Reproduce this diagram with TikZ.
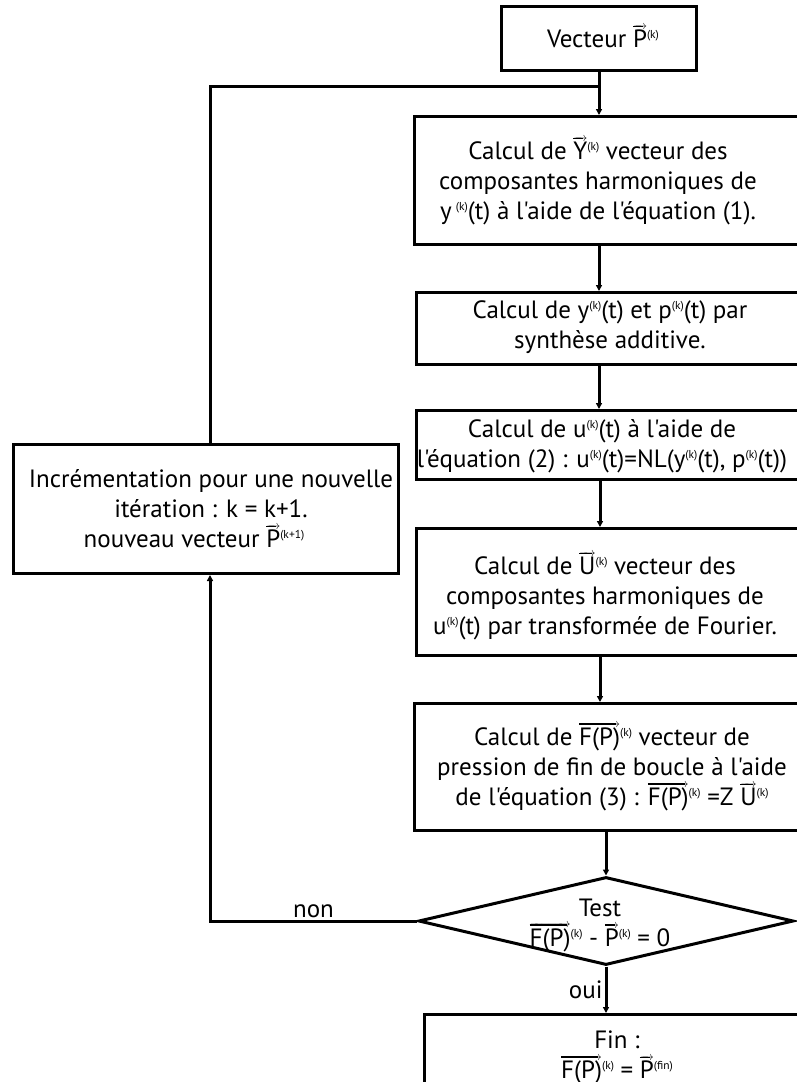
\documentclass[tikz,border=0pt]{standalone}
\usepackage{fontspec}
\setmainfont{PT Sans}[Ligatures=TeXOff]
\usetikzlibrary{arrows.meta,shapes.geometric}
\newsavebox{\vbx}
\newcommand{\vect}[1]{\sbox{\vbx}{#1}%
  \smash{\rlap{\raisebox{\dimexpr\ht\vbx+0.3pt\relax}{\hbox to\wd\vbx{\fontsize{12}{12}\selectfont\rightarrowfill}}}}%
  \smash{\rlap{\raisebox{\dimexpr\ht\vbx+0.3pt+2.4pt\relax}{\rule{\dimexpr\wd\vbx-4pt\relax}{1.2pt}}}}%
  \usebox{\vbx}}
\newcommand{\ex}[1]{\raisebox{9pt}{\fontsize{11.5}{11.5}\selectfont #1}}
\begin{document}
\begin{tikzpicture}[x=1pt,y=-1pt,line width=3pt,
  box/.style={draw, rectangle, inner sep=0pt, anchor=north west},
  txt/.style={align=center, inner sep=0pt, font=\fontsize{25}{30}\selectfont},
  lbl/.style={inner sep=2pt, font=\fontsize{25}{30}\selectfont},
  arr/.style={-{Triangle[length=6pt,width=6pt]}}]
\useasboundingbox (0,0) rectangle (797,1082);
\clip (0,0) rectangle (797,1082);
% boxes
\node[box, minimum width=195, minimum height=64] (top) at (500,5) {};
\node[box, minimum width=392, minimum height=128] (ybox) at (413,115) {};
\node[box, minimum width=390, minimum height=72] (b2) at (415,291) {};
\node[box, minimum width=390, minimum height=69] (b3) at (415,409) {};
\node[box, minimum width=390, minimum height=127] (b4) at (415,527) {};
\node[box, minimum width=392, minimum height=127] (b5) at (413,702) {};
\node[box, minimum width=385, minimum height=129] (lbox) at (12,443) {};
\node[box, minimum width=382, minimum height=100] (fin) at (423,1013) {};
\node[draw, diamond, minimum width=375, minimum height=88, inner sep=0pt] (test) at (606,921) {};
% texts
\node[txt] (ttop) at (603,39) {Vecteur \vect{P}\ex{(k)}};
\node[txt] (tybox) at (598,183) {Calcul de \vect{Y}\ex{(k)} vecteur des\\composantes harmoniques de\\y\,\ex{(k)}(t) à l'aide de l'équation (1).};
\node[txt] (tb2) at (610,327) {Calcul de y\ex{(k)}(t) et p\ex{(k)}(t) par\\synthèse additive.};
\node[txt] (tb3) at (602,446) {Calcul de u\ex{(k)}(t) à l'aide de\\l'équation (2) : u\ex{(k)}(t)=NL(y\ex{(k)}(t), p\ex{(k)}(t))};
\node[txt] (tb4) at (605,598) {Calcul de \vect{U}\ex{(k)} vecteur des\\composantes harmoniques de\\u\ex{(k)}(t) par transformée de Fourier.};
\node[txt] (tb5) at (612,769) {Calcul de \vect{F(P)}\ex{(k)} vecteur de\\pression de fin de boucle à l'aide\\de l'équation (3) : \vect{F(P)}\ex{(k)} =Z \vect{U}\ex{(k)}};
\node[txt] (tlbox) at (211,509) {Incrémentation pour une nouvelle\\itération : k = k+1.\hspace*{16pt}\\nouveau vecteur \vect{P}\ex{(k+1)}\hspace*{34pt}};
\node[txt] (ttest) at (600,925) {Test\\\vect{F(P)}\ex{(k)} - \vect{P}\ex{(k)} = 0};
\node[txt] (tfin) at (617,1057) {Fin :\\\vect{F(P)}\ex{(k)} = \vect{P}\ex{(fin)}};
% helper coordinates
\coordinate (lx) at (210,0);
\coordinate (join) at (597.5,86);
\coordinate (c1) at (599,0);
\coordinate (c2) at (600,0);
% connectors
\draw[arr] (top.south) -- (ybox.north -| top.south);
\draw (lbox.north -| lx) |- (join);
\draw[arr] (ybox.south -| c1) -- (b2.north -| c1);
\draw[arr] (b2.south -| c1) -- (b3.north -| c1);
\draw[arr] (b3.south -| c2) -- (b4.north -| c2);
\draw[arr] (b4.south -| c2) -- (b5.north -| c2);
\draw[arr] (b5.south -| test.north) -- (test.north);
\draw[arr] (test.south) -- node[lbl, left] {oui} (fin.north -| test.south);
\draw[arr] (test.west) -| node[lbl, pos=0.25, above] {non} (lbox.south -| lx);
\end{tikzpicture}
\end{document}
